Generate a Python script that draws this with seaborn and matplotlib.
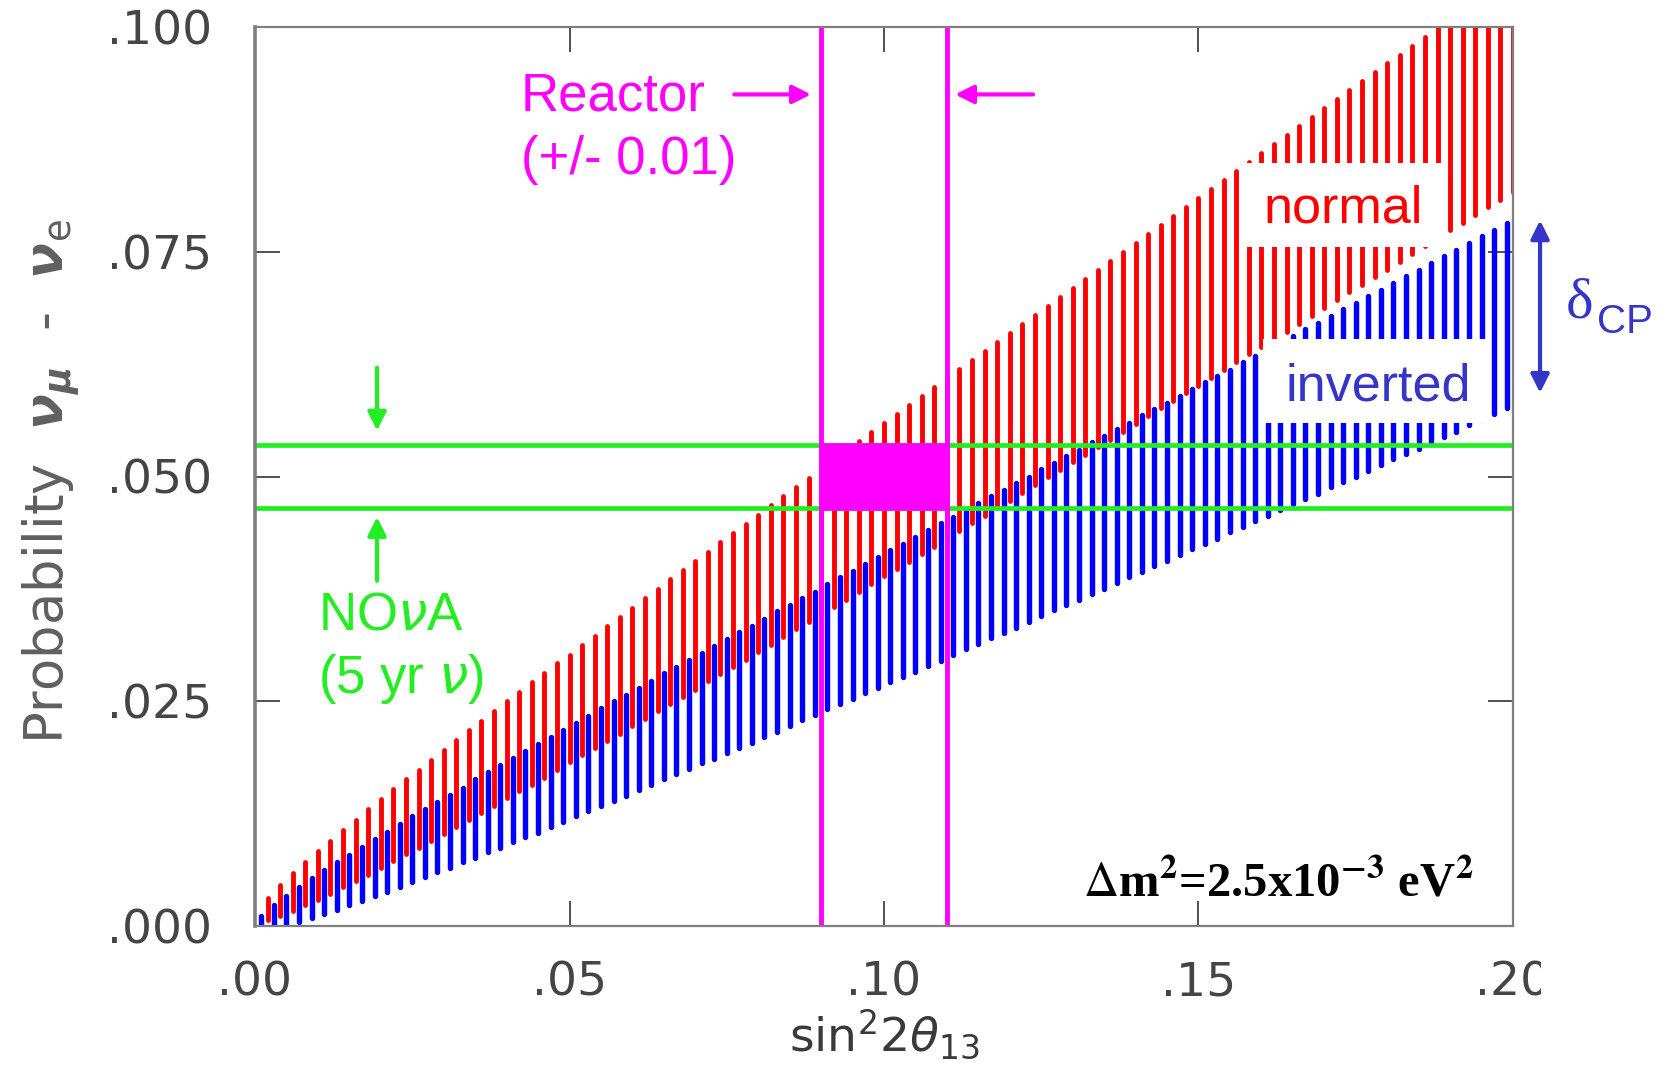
import numpy as np
import pandas as pd
import matplotlib
matplotlib.use("Agg")
import matplotlib.pyplot as plt
import seaborn as sns
from matplotlib.patches import Rectangle

# ---------------- data ----------------
# sin^2(2 theta13) positions of the vertical bars (one bar per value)
normal_x = np.round(np.arange(1, 101) * 0.002, 3)
inverted_x = np.round(np.arange(1, 101) * 0.002 - 0.001, 3)

PROB_UNIT = 1e-4  # probabilities below are in units of 1e-4

normal_high = [
    31, 46, 59, 71, 83, 95, 107, 118, 130, 141,
    152, 163, 174, 185, 196, 207, 218, 228, 239, 250,
    260, 271, 281, 292, 302, 313, 323, 334, 344, 354,
    365, 375, 386, 396, 406, 416, 427, 437, 447, 457,
    468, 478, 488, 498, 509, 519, 529, 539, 549, 559,
    569, 580, 590, 600, 610, 620, 630, 640, 650, 660,
    670, 680, 690, 700, 710, 720, 730, 740, 750, 760,
    770, 780, 790, 800, 810, 820, 830, 840, 850, 860,
    870, 880, 890, 900, 910, 920, 930, 940, 950, 960,
    969, 979, 989, 999, 1000, 1000, 1000, 1000, 1000, 1000]
normal_low = [
    7, 11, 17, 23, 29, 36, 43, 50, 57, 65,
    72, 80, 87, 95, 102, 110, 118, 126, 134, 142,
    150, 157, 165, 174, 182, 190, 198, 206, 214, 222,
    230, 239, 247, 255, 263, 272, 280, 288, 296, 305,
    313, 321, 330, 338, 346, 355, 363, 372, 380, 389,
    397, 405, 414, 422, 431, 439, 448, 456, 465, 473,
    482, 490, 499, 507, 516, 524, 533, 541, 550, 558,
    567, 576, 584, 593, 601, 610, 618, 627, 636, 644,
    653, 661, 670, 679, 687, 696, 705, 713, 722, 730,
    739, 748, 756, 765, 774, 782, 791, 800, 808, 817]
inverted_high = [
    11, 23, 33, 43, 53, 62, 71, 79, 88, 97,
    105, 113, 122, 130, 138, 146, 154, 163, 171, 179,
    187, 195, 202, 210, 218, 226, 234, 242, 250, 257,
    265, 273, 281, 288, 296, 304, 311, 319, 327, 334,
    342, 350, 357, 365, 372, 380, 388, 395, 403, 410,
    418, 425, 433, 440, 448, 455, 463, 470, 478, 485,
    493, 500, 508, 515, 523, 530, 538, 545, 553, 560,
    568, 575, 582, 590, 597, 605, 612, 619, 627, 634,
    642, 649, 656, 664, 671, 679, 686, 693, 701, 708,
    715, 723, 730, 738, 745, 752, 760, 767, 774, 782]
inverted_low = [
    0, 0, 1, 4, 9, 13, 18, 23, 28, 33,
    38, 43, 49, 54, 60, 65, 71, 76, 82, 87,
    93, 99, 104, 110, 116, 122, 128, 133, 139, 145,
    151, 157, 163, 169, 175, 181, 186, 192, 198, 204,
    210, 216, 222, 229, 235, 241, 247, 253, 259, 265,
    271, 277, 283, 289, 295, 302, 308, 314, 320, 326,
    332, 338, 345, 351, 357, 363, 369, 375, 382, 388,
    394, 400, 406, 413, 419, 425, 431, 438, 444, 450,
    456, 463, 469, 475, 481, 488, 494, 500, 506, 513,
    519, 525, 531, 538, 544, 550, 557, 563, 569, 576]

nova_band = [0.0465, 0.0535]        # NOvA measurement band (horizontal lines)
reactor_band = [0.09, 0.11]         # reactor sin^2 2theta13 (+/- 0.01)

x_ticks = [0.0, 0.05, 0.10, 0.15, 0.20]
x_tick_labels = [".00", ".05", ".10", ".15", ".20"]
y_ticks = [0.0, 0.025, 0.050, 0.075, 0.100]
y_tick_labels = [".000", ".025", ".050", ".075", ".100"]

# ---------------- style ----------------
sns.set_theme(style="ticks")
plt.rcParams["font.family"] = ["DejaVu Sans"]

RED = "#ff0000"
BLUE = "#0000ff"
GREEN = "#22ee22"
MAGENTA = "#ff00ff"
LABEL_BLUE = "#3535c8"

W, H = 1673, 1076
fig = plt.figure(figsize=(W / 100, H / 100), dpi=100, facecolor="white")
ax = fig.add_axes([255 / W, 1 - 926 / H, 1258 / W, 899 / H])
ax.set_facecolor("white")


def long_frame(xs, lo, hi, name):
    rows = []
    for i, (x, a, b) in enumerate(zip(xs, lo, hi)):
        rows.append((f"{name}{i}", x, a * PROB_UNIT, name))
        rows.append((f"{name}{i}", x, b * PROB_UNIT, name))
    return pd.DataFrame(rows, columns=["bar", "sin2", "prob", "hierarchy"])


df_inv = long_frame(inverted_x, inverted_low, inverted_high, "inverted")
df_nor = long_frame(normal_x, normal_low, normal_high, "normal")

sns.lineplot(data=df_inv, x="sin2", y="prob", units="bar", estimator=None,
             color=BLUE, linewidth=3.9, solid_capstyle="round", sort=False,
             legend=False, ax=ax, zorder=2)
sns.lineplot(data=df_nor, x="sin2", y="prob", units="bar", estimator=None,
             color=RED, linewidth=3.5, solid_capstyle="round", sort=False,
             legend=False, ax=ax, zorder=2)

# NOvA band lines
ax.hlines(nova_band, 0, 0.2, color=GREEN, linewidth=3.4, zorder=3)
# Reactor lines and overlap box
for xv in reactor_band:
    ax.axvline(xv, color=MAGENTA, linewidth=3.5, zorder=4)
ax.add_patch(Rectangle((reactor_band[0], nova_band[0]),
                       reactor_band[1] - reactor_band[0],
                       nova_band[1] - nova_band[0],
                       facecolor=MAGENTA, edgecolor=MAGENTA, linewidth=3.4,
                       zorder=4))

ax.set_xlim(0, 0.2)
ax.set_ylim(0, 0.1)
ax.set_xticks(x_ticks)
ax.set_xticklabels(x_tick_labels)
ax.set_yticks(y_ticks)
ax.set_yticklabels(y_tick_labels)
ax.set_xlabel("")
ax.set_ylabel("")
ax.tick_params(direction="in", length=18, width=1.1, color="#222222",
               top=True, right=True, labelsize=34, labelcolor="#454545")
ax.tick_params(axis="x", pad=25)
ax.tick_params(axis="y", pad=31)
for name, sp in ax.spines.items():
    sp.set_color("#7f7f7f")
    sp.set_linewidth(1.6)
    sp.set_zorder(6)
ax.spines["left"].set_linewidth(2.6)

# ---------------- annotations ----------------
arrow_kw = dict(arrowstyle="-|>,head_length=0.5,head_width=0.25",
                lw=3, shrinkA=0, shrinkB=0, mutation_scale=22)
ax.annotate("", xy=(0.0884, 0.0925), xytext=(0.0762, 0.0925),
            arrowprops=dict(color=MAGENTA, **arrow_kw), zorder=7)
ax.annotate("", xy=(0.1113, 0.0925), xytext=(0.1237, 0.0925),
            arrowprops=dict(color=MAGENTA, **arrow_kw), zorder=7)
ax.text(0.0423, 0.09066, "Reactor", fontsize=38, color=MAGENTA,
        family="Liberation Sans", va="baseline", ha="left", zorder=7)
ax.text(0.0423, 0.08365, "(+/- 0.01)", fontsize=38, color=MAGENTA,
        family="Liberation Sans", va="baseline", ha="left", zorder=7)

ax.annotate("", xy=(0.0194, 0.0551), xytext=(0.0194, 0.0621),
            arrowprops=dict(color=GREEN, **arrow_kw), zorder=7)
ax.annotate("", xy=(0.0194, 0.0455), xytext=(0.0194, 0.0384),
            arrowprops=dict(color=GREEN, **arrow_kw), zorder=7)
ax.text(0.0100, 0.03293, r"NO$\nu$A", fontsize=38, color=GREEN,
        family="Liberation Sans", va="baseline", ha="left", zorder=7)
ax.text(0.0100, 0.02592, r"(5 yr $\nu$)", fontsize=38, color=GREEN,
        family="Liberation Sans", va="baseline", ha="left", zorder=7)

# hierarchy labels on white boxes
ax.add_patch(Rectangle((0.1571, 0.0755), 0.0318, 0.0094, facecolor="white",
                       edgecolor="none", zorder=5))
ax.text(0.1603, 0.0782, "normal", fontsize=37.5, color=RED,
        family="Liberation Sans", va="baseline", ha="left", zorder=6)
ax.add_patch(Rectangle((0.1603, 0.0560), 0.0357, 0.0093, facecolor="white",
                       edgecolor="none", zorder=5))
ax.text(0.1638, 0.0585, "inverted", fontsize=37.5, color=LABEL_BLUE,
        family="Liberation Sans", va="baseline", ha="left", zorder=6)

ax.text(0.1316, 0.00323,
        r"$\Delta$m$^{\mathbf{2}}$=2.5x10$^{\mathbf{-3}}$ eV$^{\mathbf{2}}$",
        fontsize=35, color="black", family="Liberation Serif",
        fontweight="bold", math_fontfamily="stix", va="baseline",
        ha="left", zorder=7)

# delta_CP double arrow outside the axes
ax.annotate("", xy=(0.2043, 0.0785), xytext=(0.2043, 0.0593),
            arrowprops=dict(color=LABEL_BLUE,
                            arrowstyle="<|-|>,head_length=0.5,head_width=0.25",
                            lw=3, shrinkA=0, shrinkB=0, mutation_scale=22),
            annotation_clip=False, zorder=7)
fig.text(1566 / W, 1 - 318 / H, "δ", fontsize=42, color=LABEL_BLUE,
         family="Liberation Serif", va="baseline", ha="left")
fig.text(1597 / W, 1 - 333 / H, "CP", fontsize=29, color=LABEL_BLUE,
         family="Liberation Sans", va="baseline", ha="left")

# axis labels
fig.text(884 / W, 1 - 1051 / H, r"sin$^{2}$2$\theta_{13}$", fontsize=34,
         color="#3a3a3a", ha="center", va="baseline")
fig.text(52 / W, 1 - 482 / H,
         r"Probability  $\boldsymbol{\nu}_{\boldsymbol{\mu}}$  -  $\boldsymbol{\nu}_{\mathrm{e}}$",
         fontsize=38, color="#606060", rotation=90, ha="center", va="center")

# white patch that cuts the last x tick label as in the reference
fig.add_artist(Rectangle((1541 / W, 0), 1 - 1541 / W, 1 - 935 / H,
                         transform=fig.transFigure, facecolor="white",
                         edgecolor="none", zorder=10))

fig.savefig("out.png", dpi=100, facecolor="white")
